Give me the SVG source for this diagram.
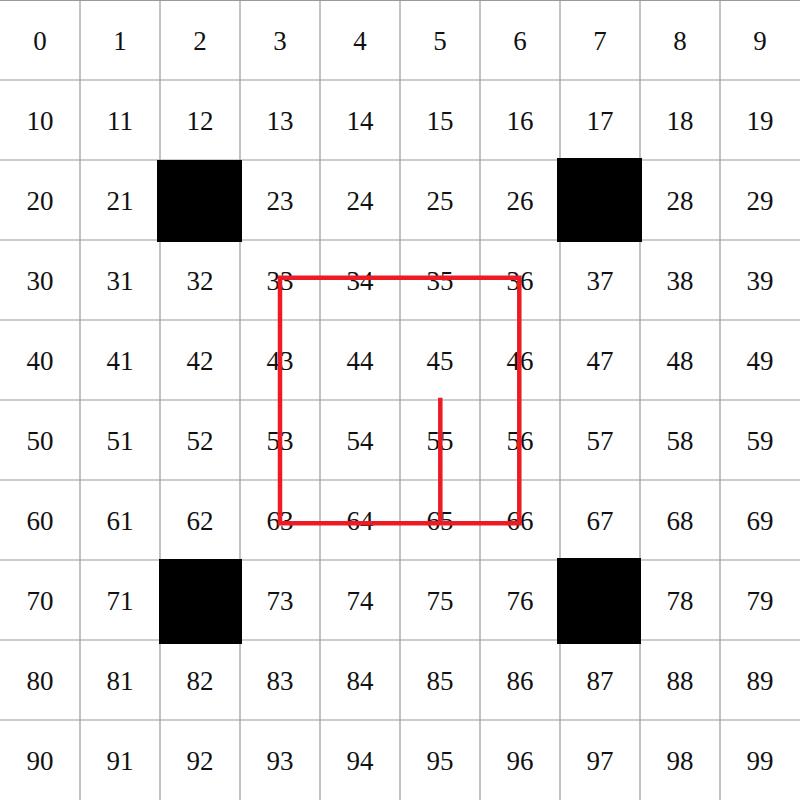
<svg xmlns="http://www.w3.org/2000/svg" width="800" height="800" viewBox="0 0 800 800">
<style>
.g{stroke:#999;stroke-width:1.2}
.t{font-family:"Liberation Serif","DejaVu Serif",serif;font-size:27px;fill:#111;text-anchor:middle}
.b{fill:#000}
.r{fill:none;stroke:#ED1C24;stroke-width:4.5;stroke-linecap:butt;stroke-linejoin:miter}
</style>
<rect width="800" height="800" fill="#fff"/>
<g id="grid">
<line class="g" x1="0" y1="0.5" x2="800" y2="0.5"/>
<line class="g" x1="0" y1="80" x2="800" y2="80"/>
<line class="g" x1="0" y1="160" x2="800" y2="160"/>
<line class="g" x1="0" y1="240" x2="800" y2="240"/>
<line class="g" x1="0" y1="320" x2="800" y2="320"/>
<line class="g" x1="0" y1="400" x2="800" y2="400"/>
<line class="g" x1="0" y1="480" x2="800" y2="480"/>
<line class="g" x1="0" y1="560" x2="800" y2="560"/>
<line class="g" x1="0" y1="640" x2="800" y2="640"/>
<line class="g" x1="0" y1="720" x2="800" y2="720"/>
<line class="g" x1="80" y1="0" x2="80" y2="800"/>
<line class="g" x1="160" y1="0" x2="160" y2="800"/>
<line class="g" x1="240" y1="0" x2="240" y2="800"/>
<line class="g" x1="320" y1="0" x2="320" y2="800"/>
<line class="g" x1="400" y1="0" x2="400" y2="800"/>
<line class="g" x1="480" y1="0" x2="480" y2="800"/>
<line class="g" x1="560" y1="0" x2="560" y2="800"/>
<line class="g" x1="640" y1="0" x2="640" y2="800"/>
<line class="g" x1="720" y1="0" x2="720" y2="800"/>
</g>
<g id="labels" class="t">
<text x="40" y="50">0</text><text x="120" y="50">1</text><text x="200" y="50">2</text><text x="280" y="50">3</text><text x="360" y="50">4</text><text x="440" y="50">5</text><text x="520" y="50">6</text><text x="600" y="50">7</text><text x="680" y="50">8</text><text x="760" y="50">9</text>
<text x="40" y="130">10</text><text x="120" y="130">11</text><text x="200" y="130">12</text><text x="280" y="130">13</text><text x="360" y="130">14</text><text x="440" y="130">15</text><text x="520" y="130">16</text><text x="600" y="130">17</text><text x="680" y="130">18</text><text x="760" y="130">19</text>
<text x="40" y="210">20</text><text x="120" y="210">21</text><text x="280" y="210">23</text><text x="360" y="210">24</text><text x="440" y="210">25</text><text x="520" y="210">26</text><text x="680" y="210">28</text><text x="760" y="210">29</text>
<text x="40" y="290">30</text><text x="120" y="290">31</text><text x="200" y="290">32</text><text x="280" y="290">33</text><text x="360" y="290">34</text><text x="440" y="290">35</text><text x="520" y="290">36</text><text x="600" y="290">37</text><text x="680" y="290">38</text><text x="760" y="290">39</text>
<text x="40" y="370">40</text><text x="120" y="370">41</text><text x="200" y="370">42</text><text x="280" y="370">43</text><text x="360" y="370">44</text><text x="440" y="370">45</text><text x="520" y="370">46</text><text x="600" y="370">47</text><text x="680" y="370">48</text><text x="760" y="370">49</text>
<text x="40" y="450">50</text><text x="120" y="450">51</text><text x="200" y="450">52</text><text x="280" y="450">53</text><text x="360" y="450">54</text><text x="440" y="450">55</text><text x="520" y="450">56</text><text x="600" y="450">57</text><text x="680" y="450">58</text><text x="760" y="450">59</text>
<text x="40" y="530">60</text><text x="120" y="530">61</text><text x="200" y="530">62</text><text x="280" y="530">63</text><text x="360" y="530">64</text><text x="440" y="530">65</text><text x="520" y="530">66</text><text x="600" y="530">67</text><text x="680" y="530">68</text><text x="760" y="530">69</text>
<text x="40" y="610">70</text><text x="120" y="610">71</text><text x="280" y="610">73</text><text x="360" y="610">74</text><text x="440" y="610">75</text><text x="520" y="610">76</text><text x="680" y="610">78</text><text x="760" y="610">79</text>
<text x="40" y="690">80</text><text x="120" y="690">81</text><text x="200" y="690">82</text><text x="280" y="690">83</text><text x="360" y="690">84</text><text x="440" y="690">85</text><text x="520" y="690">86</text><text x="600" y="690">87</text><text x="680" y="690">88</text><text x="760" y="690">89</text>
<text x="40" y="770">90</text><text x="120" y="770">91</text><text x="200" y="770">92</text><text x="280" y="770">93</text><text x="360" y="770">94</text><text x="440" y="770">95</text><text x="520" y="770">96</text><text x="600" y="770">97</text><text x="680" y="770">98</text><text x="760" y="770">99</text>
</g>
<g id="obstacles">
<rect id="cell22" class="b" x="157" y="160" width="85" height="82"/>
<rect id="cell27" class="b" x="557" y="158" width="85" height="84"/>
<rect id="cell72" class="b" x="159" y="559" width="83" height="85"/>
<rect id="cell77" class="b" x="557" y="558" width="84" height="86"/>
</g>
<g id="connectors">
<path class="r" d="M440.3,397.7 V523.3 H519.3 V277.7 H280 V523.3 H440.3"/>
</g>
</svg>
